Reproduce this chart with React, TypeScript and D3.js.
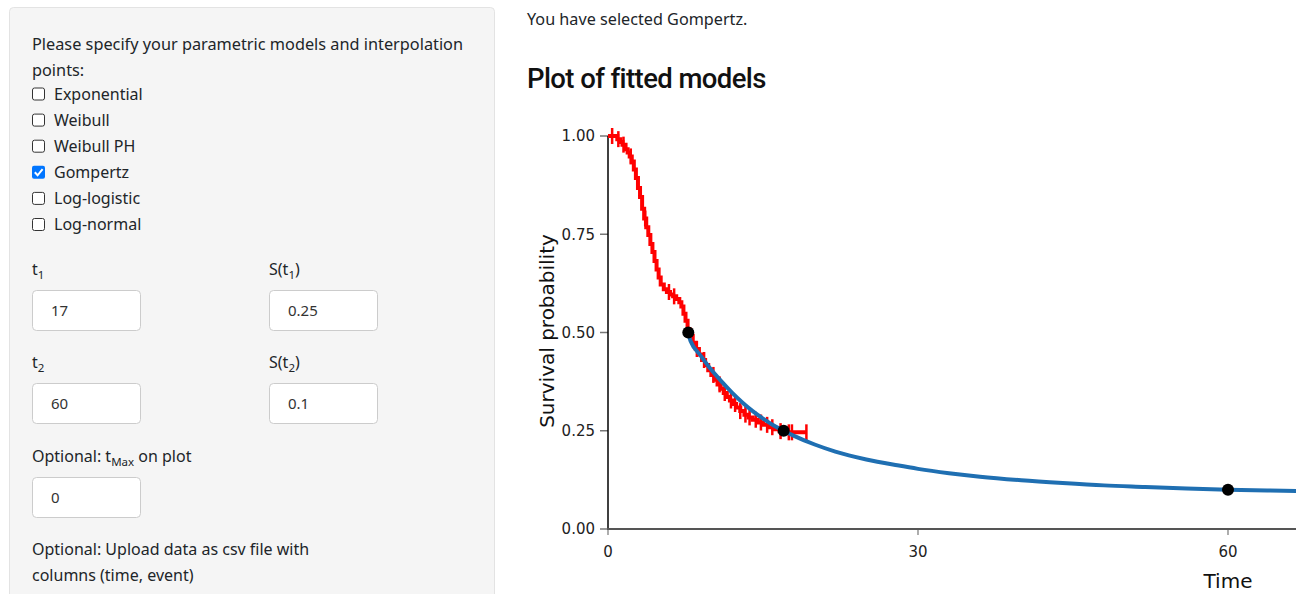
import React from "react";
import * as d3 from "d3";

// ---- data ----
const models = ["Exponential", "Weibull", "Weibull PH", "Gompertz", "Log-logistic", "Log-normal"];
const selectedModels = ["Gompertz"];

const kmTime = [0, 0.9, 1.2, 1.4, 1.7, 1.9, 2.1, 2.3, 2.5, 2.7, 2.9, 3.1, 3.3, 3.5, 3.7, 3.9, 4.1, 4.3, 4.5, 4.7, 4.9, 5.1, 5.4, 5.7, 6.0, 6.3, 6.6, 6.9, 7.1, 7.3, 7.5, 7.7, 7.9, 8.2, 8.5, 8.8, 9.1, 9.4, 9.7, 10.0, 10.3, 10.6, 10.9, 11.2, 11.5, 11.8, 12.1, 12.4, 12.8, 13.2, 13.6, 14.0, 14.5, 15.0, 15.5, 16.0, 16.6, 17.1, 19.2];
const kmSurv = [1.0, 0.992, 0.985, 0.978, 0.966, 0.958, 0.948, 0.935, 0.915, 0.893, 0.868, 0.845, 0.815, 0.79, 0.768, 0.748, 0.725, 0.705, 0.682, 0.66, 0.64, 0.622, 0.61, 0.603, 0.597, 0.592, 0.585, 0.577, 0.566, 0.548, 0.53, 0.508, 0.492, 0.474, 0.458, 0.444, 0.43, 0.417, 0.404, 0.392, 0.38, 0.368, 0.357, 0.346, 0.336, 0.327, 0.318, 0.309, 0.3, 0.291, 0.284, 0.278, 0.271, 0.265, 0.259, 0.254, 0.249, 0.246, 0.246];
const censorTimes = [0.4, 1.0, 1.5, 2.2, 3.6, 5.9, 6.4, 8.6, 9.3, 10.2, 10.8, 11.3, 11.9, 12.3, 12.8, 13.3, 13.7, 14.3, 14.8, 15.4, 15.9, 16.7, 17.5, 17.8, 19.2];

const fitTime = [7.77, 8, 9, 10, 11, 12, 13, 14, 15, 16, 17, 18, 20, 22, 25, 28, 30, 33, 36, 40, 44, 48, 52, 56, 60, 64, 68, 72];
const fitSurv = [0.495, 0.478, 0.44, 0.405, 0.375, 0.347, 0.322, 0.3, 0.281, 0.264, 0.25, 0.237, 0.215, 0.197, 0.177, 0.162, 0.153, 0.142, 0.133, 0.124, 0.117, 0.111, 0.107, 0.103, 0.1, 0.098, 0.096, 0.095];

const pointTime = [7.77, 17, 60];
const pointSurv = [0.5, 0.25, 0.1];

const yTicks = [0, 0.25, 0.5, 0.75, 1.0];
const xTicks = [0, 30, 60];

const W = 1296, H = 594;
const uiFont = "'Noto Sans', 'Open Sans', sans-serif";
const axFont = "'DejaVu Sans', Verdana, sans-serif";
const txt = "#212529";

function stepAt(t: number) {
  let s = kmSurv[0];
  for (let i = 0; i < kmTime.length; i++) if (kmTime[i] <= t) s = kmSurv[i];
  return s;
}

function Check({ y, label, checked }: { y: number; label: string; checked: boolean }) {
  return (
    <g>
      {checked ? (
        <g>
          <rect x={32} y={y - 6.5} width={13} height={13} rx={2} fill="#0075ff" />
          <path d={`M34.8,${y} L37.6,${y + 3} L42.6,${y - 3.2}`} fill="none" stroke="#fff" strokeWidth={2} />
        </g>
      ) : (
        <rect x={32.5} y={y - 6} width={12} height={12} rx={2} fill="#fff" stroke="#333" strokeWidth={1} />
      )}
      <text x={54} y={y + 5.5} fontSize={16} fill={txt} fontFamily={uiFont}>{label}</text>
    </g>
  );
}

function Input({ x, y, value }: { x: number; y: number; value: string }) {
  return (
    <g>
      <rect x={x + 0.5} y={y + 0.5} width={108} height={40} rx={4} fill="#fff" stroke="#ccc" />
      <text x={x + 19} y={y + 26} fontSize={15} fill="#333" fontFamily={uiFont}>{value}</text>
    </g>
  );
}

function Sub({ x, y, base, sub, suffix }: { x: number; y: number; base: string; sub: string; suffix?: string }) {
  return (
    <text x={x} y={y} fontSize={16} fill={txt} fontFamily={uiFont}>
      {base}
      <tspan fontSize={11.5} dy={4}>{sub}</tspan>
      {suffix ? <tspan dy={-4}>{suffix}</tspan> : null}
    </text>
  );
}

export default function App() {
  const x = d3.scaleLinear().domain([0, 60]).range([608, 1228]);
  const y = d3.scaleLinear().domain([0, 1]).range([529, 136]);

  const kmLine = d3.line<number>().x((d, i) => x(kmTime[i])).y((d, i) => y(kmSurv[i])).curve(d3.curveStepAfter);
  const fitLine = d3.line<number>().x((d, i) => x(fitTime[i])).y((d, i) => y(fitSurv[i])).curve(d3.curveMonotoneX);

  return (
    <div style={{ position: "fixed", left: 0, top: 0, width: W, height: H, overflow: "hidden", background: "#fff" }}>
      <svg width={W} height={H}>
        {/* left panel */}
        <rect x={9.5} y={7.5} width={485} height={640} rx={4} fill="#f5f5f5" stroke="#e3e3e3" />
        <text x={32} y={50} fontSize={16.3} fill={txt} fontFamily={uiFont}>Please specify your parametric models and interpolation</text>
        <text x={32} y={76} fontSize={16.3} fill={txt} fontFamily={uiFont}>points:</text>
        {models.map((m, i) => (
          <Check key={m} y={94 + i * 26.1} label={m} checked={selectedModels.includes(m)} />
        ))}
        <Sub x={32} y={275} base="t" sub="1" />
        <Sub x={269} y={275} base="S(t" sub="1" suffix=")" />
        <Input x={32} y={290} value="17" />
        <Input x={269} y={290} value="0.25" />
        <Sub x={32} y={368} base="t" sub="2" />
        <Sub x={269} y={368} base="S(t" sub="2" suffix=")" />
        <Input x={32} y={383} value="60" />
        <Input x={269} y={383} value="0.1" />
        <text x={32} y={462} fontSize={16} fill={txt} fontFamily={uiFont}>
          Optional: t<tspan fontSize={11.5} dy={4}>Max</tspan><tspan dy={-4}> on plot</tspan>
        </text>
        <Input x={32} y={477} value="0" />
        <text x={32} y={555} fontSize={16} fill={txt} fontFamily={uiFont}>Optional: Upload data as csv file with</text>
        <text x={32} y={581} fontSize={16} fill={txt} fontFamily={uiFont}>columns (time, event)</text>

        {/* right header */}
        <text x={527} y={25} fontSize={16.2} fill={txt} fontFamily={uiFont}>You have selected Gompertz.</text>
        <text x={527} y={88} fontSize={27.5} fill="#111" fontFamily="Roboto, sans-serif" fontWeight={500} letterSpacing={-0.6}>Plot of fitted models</text>

        {/* axes */}
        {yTicks.map((t) => (
          <g key={t}>
            <line x1={600} x2={608} y1={y(t)} y2={y(t)} stroke="#777" strokeWidth={1.5} />
            <text x={595} y={y(t)} dy="0.35em" textAnchor="end" fontSize={15} fill="#222" fontFamily={axFont}>{d3.format(".2f")(t)}</text>
          </g>
        ))}
        {xTicks.map((t) => (
          <g key={t}>
            <line x1={x(t)} x2={x(t)} y1={529} y2={535} stroke="#777" strokeWidth={1.2} />
            <text x={x(t)} y={557} textAnchor="middle" fontSize={15} fill="#222" fontFamily={axFont}>{t}</text>
          </g>
        ))}
        <line x1={608} x2={608} y1={y(1)} y2={529} stroke="#000" strokeWidth={1.5} />
        <line x1={607} x2={W} y1={529} y2={529} stroke="#555" strokeWidth={2} />
        <text transform={`translate(554,${331}) rotate(-90)`} textAnchor="middle" fontSize={20} fill="#111" fontFamily={axFont}>Survival probability</text>
        <text x={x(60)} y={588} textAnchor="middle" fontSize={20} fill="#111" fontFamily={axFont}>Time</text>

        {/* KM curve */}
        <path d={kmLine(kmTime) || ""} fill="none" stroke="#ff0000" strokeWidth={4} />
        {censorTimes.map((t, i) => (
          <line key={i} x1={x(t)} x2={x(t)} y1={y(stepAt(t)) - 8} y2={y(stepAt(t)) + 8} stroke="#ff0000" strokeWidth={2.5} />
        ))}

        {/* fitted */}
        <path d={fitLine(fitTime) || ""} fill="none" stroke="#1f6fb2" strokeWidth={4} />
        {pointTime.map((t, i) => (
          <circle key={i} cx={x(t)} cy={y(pointSurv[i])} r={6} fill="#000" />
        ))}
      </svg>
    </div>
  );
}
